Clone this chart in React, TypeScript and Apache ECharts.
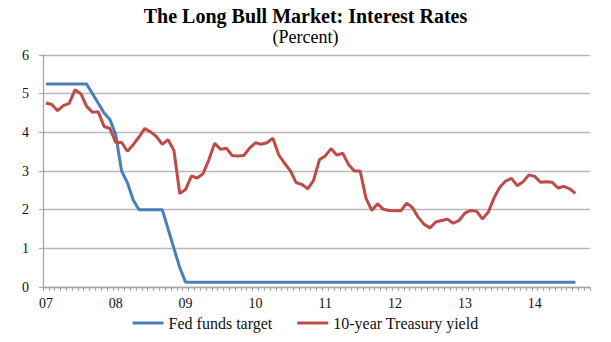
import React, { useEffect, useRef } from "react";
import * as echarts from "echarts";

// Years shown on the x axis (two-digit labels) and months of each year
const years = ["07", "08", "09", "10", "11", "12", "13", "14"];
const months = ["01", "02", "03", "04", "05", "06", "07", "08", "09", "10", "11", "12"];
// Monthly categories Jan 2007 .. Oct 2014
const categories: string[] = years
  .flatMap((y) => months.map((m) => `${y}-${m}`))
  .slice(0, 94);

// Fed funds target (monthly average, percent), Jan 2007 .. Aug 2014
const fedFunds: number[] = [
  // 2007
  5.25, 5.25, 5.25, 5.25, 5.25, 5.25, 5.25, 5.25, 5.0, 4.75, 4.5, 4.33,
  // 2008
  3.94, 3.0, 2.7, 2.25, 2.0, 2.0, 2.0, 2.0, 2.0, 1.5, 1.0, 0.5,
  // 2009
  0.125, 0.125, 0.125, 0.125, 0.125, 0.125, 0.125, 0.125, 0.125, 0.125, 0.125, 0.125,
  // 2010
  0.125, 0.125, 0.125, 0.125, 0.125, 0.125, 0.125, 0.125, 0.125, 0.125, 0.125, 0.125,
  // 2011
  0.125, 0.125, 0.125, 0.125, 0.125, 0.125, 0.125, 0.125, 0.125, 0.125, 0.125, 0.125,
  // 2012
  0.125, 0.125, 0.125, 0.125, 0.125, 0.125, 0.125, 0.125, 0.125, 0.125, 0.125, 0.125,
  // 2013
  0.125, 0.125, 0.125, 0.125, 0.125, 0.125, 0.125, 0.125, 0.125, 0.125, 0.125, 0.125,
  // 2014
  0.125, 0.125, 0.125, 0.125, 0.125, 0.125, 0.125, 0.125,
];

// 10-year Treasury yield (monthly average, percent), Jan 2007 .. Aug 2014
const treasury10y: number[] = [
  // 2007
  4.76, 4.72, 4.56, 4.69, 4.75, 5.1, 5.0, 4.67, 4.52, 4.53, 4.15, 4.1,
  // 2008
  3.74, 3.74, 3.51, 3.68, 3.88, 4.1, 4.01, 3.89, 3.69, 3.81, 3.53, 2.42,
  // 2009
  2.52, 2.87, 2.82, 2.93, 3.29, 3.72, 3.56, 3.59, 3.4, 3.39, 3.4, 3.59,
  // 2010
  3.73, 3.69, 3.73, 3.85, 3.42, 3.2, 3.01, 2.7, 2.65, 2.54, 2.76, 3.29,
  // 2011
  3.39, 3.58, 3.41, 3.46, 3.17, 3.0, 3.0, 2.3, 1.98, 2.15, 2.01, 1.98,
  // 2012
  1.97, 1.97, 2.17, 2.05, 1.8, 1.62, 1.53, 1.68, 1.72, 1.75, 1.65, 1.72,
  // 2013
  1.91, 1.98, 1.96, 1.76, 1.93, 2.3, 2.58, 2.74, 2.81, 2.62, 2.72, 2.9,
  // 2014
  2.86, 2.71, 2.72, 2.71, 2.56, 2.6, 2.54, 2.42,
];

const seriesNames = ["Fed funds target", "10-year Treasury yield"];
const yTicks = { min: 0, max: 6, interval: 1 };

const FONT = "'Liberation Serif', 'Times New Roman', serif";

export default function App() {
  const ref = useRef<HTMLDivElement>(null);

  useEffect(() => {
    document.body.style.margin = "0";
    if (!ref.current) return;
    const chart = echarts.init(ref.current, undefined, { renderer: "svg" });
    chart.setOption({
      animation: false,
      backgroundColor: "#ffffff",
      title: [
        {
          text: "The Long Bull Market: Interest Rates",
          left: "center",
          top: 1,
          textStyle: {
            fontFamily: FONT,
            fontSize: 20,
            lineHeight: 20,
            fontWeight: "bold",
            color: "#000",
          },
        },
        {
          text: "(Percent)",
          left: "center",
          top: 23,
          textStyle: {
            fontFamily: FONT,
            fontSize: 18,
            lineHeight: 18,
            fontWeight: "normal",
            color: "#000",
          },
        },
      ],
      legend: {
        bottom: 6,
        left: "center",
        icon: "rect",
        itemWidth: 31,
        itemHeight: 3,
        itemGap: 25,
        textStyle: { fontFamily: FONT, fontSize: 16, color: "#111" },
        data: seriesNames,
      },
      grid: { left: 43, right: 21, top: 55, bottom: 55, containLabel: false },
      xAxis: {
        type: "category",
        data: categories,
        boundaryGap: true,
        axisLine: { lineStyle: { color: "#a6a6a6", width: 1.3 } },
        axisTick: { show: true, interval: 0, length: 4, lineStyle: { color: "#a6a6a6", width: 1 } },
        axisLabel: {
          interval: (idx: number) => idx % 12 === 0,
          formatter: (v: string) => v.split("-")[0],
          fontFamily: FONT,
          fontSize: 14,
          color: "#111",
          margin: 9,
        },
        splitLine: { show: false },
      },
      yAxis: {
        type: "value",
        min: yTicks.min,
        max: yTicks.max,
        interval: yTicks.interval,
        axisLine: { show: true, lineStyle: { color: "#a6a6a6", width: 1.3 } },
        axisTick: { show: true, length: 4, lineStyle: { color: "#a6a6a6" } },
        axisLabel: { fontFamily: FONT, fontSize: 14, color: "#111", margin: 14 },
        splitLine: { lineStyle: { color: "#b8b8b8", width: 1.3 } },
      },
      series: [
        {
          name: seriesNames[0],
          type: "line",
          data: fedFunds,
          showSymbol: false,
          symbol: "none",
          lineStyle: { color: "#4a7ebb", width: 3 },
          itemStyle: { color: "#4a7ebb" },
        },
        {
          name: seriesNames[1],
          type: "line",
          data: treasury10y,
          showSymbol: false,
          symbol: "none",
          lineStyle: { color: "#be4b48", width: 3 },
          itemStyle: { color: "#be4b48" },
        },
      ],
    });
    return () => chart.dispose();
  }, []);

  return <div ref={ref} style={{ width: 611, height: 342 }} />;
}
